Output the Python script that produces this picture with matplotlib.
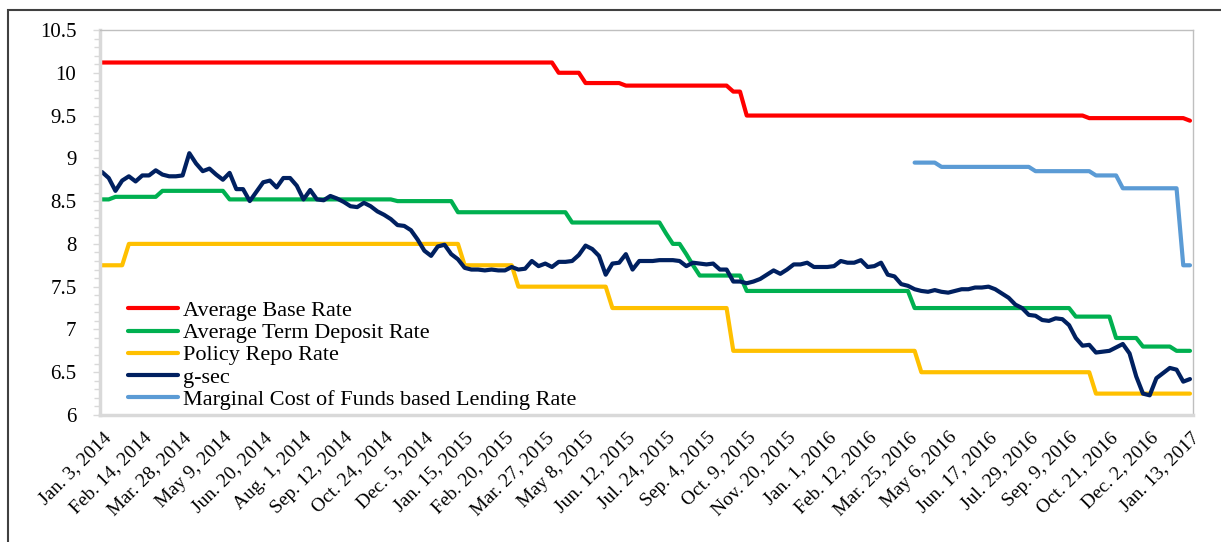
import matplotlib.pyplot as plt
import matplotlib.patches as patches
import numpy as np

plt.rcParams['font.family'] = ['Liberation Serif', 'DejaVu Serif']

# weekly observations, Jan 2014 - Jan 2017
tick_labels = [
    "Jan. 3, 2014", "Feb. 14, 2014", "Mar. 28, 2014", "May 9, 2014", "Jun. 20, 2014",
    "Aug. 1, 2014", "Sep. 12, 2014", "Oct. 24, 2014", "Dec. 5, 2014", "Jan. 15, 2015",
    "Feb. 20, 2015", "Mar. 27, 2015", "May 8, 2015", "Jun. 12, 2015", "Jul. 24, 2015",
    "Sep. 4, 2015", "Oct. 9, 2015", "Nov. 20, 2015", "Jan. 1, 2016", "Feb. 12, 2016",
    "Mar. 25, 2016", "May 6, 2016", "Jun. 17, 2016", "Jul. 29, 2016", "Sep. 9, 2016",
    "Oct. 21, 2016", "Dec. 2, 2016", "Jan. 13, 2017",
]

base_rate = ([10.12] * 68 + [10.0] * 4 + [9.88] * 6 + [9.85] * 16 + [9.78] * 2
             + [9.50] * 51 + [9.47] * 15 + [9.44])

term_deposit = ([8.52] * 2 + [8.55] * 7 + [8.62] * 10 + [8.52] * 25 + [8.50] * 9
                + [8.37] * 17 + [8.25] * 14 + [8.12] + [8.00] * 2 + [7.88, 7.75]
                + [7.63] * 7 + [7.45] * 25 + [7.25] * 24 + [7.15] * 6 + [6.90] * 4
                + [6.80] * 5 + [6.75] * 3)

repo_rate = ([7.75] * 4 + [8.0] * 50 + [7.75] * 8 + [7.5] * 14 + [7.25] * 18
             + [6.75] * 28 + [6.5] * 26 + [6.25] * 15)

gsec = [
    8.84, 8.77, 8.62, 8.74, 8.79, 8.73, 8.80, 8.80, 8.86, 8.81,
    8.79, 8.79, 8.80, 9.06, 8.94, 8.85, 8.88, 8.81, 8.75, 8.83,
    8.64, 8.64, 8.50, 8.61, 8.72, 8.74, 8.66, 8.77, 8.77, 8.68,
    8.52, 8.63, 8.52, 8.51, 8.56, 8.53, 8.49, 8.44, 8.43, 8.48,
    8.44, 8.38, 8.34, 8.29, 8.22, 8.21, 8.16, 8.05, 7.92, 7.86,
    7.97, 7.99, 7.88, 7.82, 7.72, 7.70, 7.70, 7.69, 7.70, 7.69,
    7.69, 7.73, 7.70, 7.71, 7.80, 7.74, 7.77, 7.73, 7.79, 7.79,
    7.80, 7.87, 7.98, 7.94, 7.86, 7.64, 7.77, 7.78, 7.88, 7.70,
    7.80, 7.80, 7.80, 7.81, 7.81, 7.81, 7.80, 7.74, 7.78, 7.77,
    7.76, 7.77, 7.70, 7.70, 7.56, 7.56, 7.54, 7.56, 7.59, 7.64,
    7.69, 7.65, 7.70, 7.76, 7.76, 7.78, 7.73, 7.73, 7.73, 7.74,
    7.80, 7.78, 7.78, 7.81, 7.73, 7.74, 7.78, 7.64, 7.62, 7.53,
    7.51, 7.47, 7.45, 7.44, 7.46, 7.44, 7.43, 7.45, 7.47, 7.47,
    7.49, 7.49, 7.50, 7.47, 7.42, 7.37, 7.29, 7.25, 7.17, 7.16,
    7.11, 7.10, 7.13, 7.12, 7.05, 6.90, 6.81, 6.82, 6.73, 6.74,
    6.75, 6.79, 6.83, 6.72, 6.45, 6.25, 6.23, 6.43, 6.49, 6.55,
    6.53, 6.39, 6.42,
]

# MCLR introduced April 2016
mclr = ([np.nan] * 121 + [8.95] * 4 + [8.90] * 14 + [8.85] * 9 + [8.80] * 4
        + [8.65] * 9 + [7.75] * 2)

series = [
    ("Average Base Rate", base_rate, "#FF0000"),
    ("Average Term Deposit Rate", term_deposit, "#00B050"),
    ("Policy Repo Rate", repo_rate, "#FFC000"),
    ("g-sec", gsec, "#002060"),
    ("Marginal Cost of Funds based Lending Rate", mclr, "#5B9BD5"),
]

fig = plt.figure(figsize=(12.21, 5.42), dpi=100)
ax = fig.add_axes([100 / 1221, 1 - 415 / 542, 1093 / 1221, 385 / 542])

x = np.arange(len(gsec))
for name, vals, col in series:
    ax.plot(x, vals, color=col, lw=3, label=name,
            solid_joinstyle='round', solid_capstyle='round')

ax.set_xlim(-0.3, 162.45)
ax.set_ylim(6, 10.5)

yt = np.arange(6, 10.51, 0.5)
ax.set_yticks(yt)
ax.set_yticklabels([f"{v:g}" for v in yt], fontsize=15)
ax.set_yticks(np.arange(6, 10.51, 0.1), minor=True)
ax.tick_params(axis='y', which='both', direction='out', color='#D9D9D9',
               width=1, length=5, pad=12)
ax.tick_params(axis='y', which='minor', length=4)

ax.set_xticks(x[::6])
ax.set_xticklabels(tick_labels, fontsize=14, rotation=45, ha='right',
                   rotation_mode='anchor')
ax.tick_params(axis='x', length=0, pad=10)

for side in ['top', 'right']:
    ax.spines[side].set_color('#BFBFBF')
    ax.spines[side].set_linewidth(1)
for side in ['left', 'bottom']:
    ax.spines[side].set_color('#D9D9D9')
    ax.spines[side].set_linewidth(2.5)

ax.legend(loc='upper left', bbox_to_anchor=(0.0256, 0.297), frameon=False,
          fontsize=16, handlelength=2.25, handletextpad=0.22,
          labelspacing=0.07, borderaxespad=0, borderpad=0)

# outer chart frame (cropped on right and bottom)
fig.patches.append(patches.Rectangle((8 / 1221, -0.1), 1.2, 1.1 - 10 / 542,
                                     transform=fig.transFigure, fill=False,
                                     edgecolor='#404040', lw=1.5))

plt.savefig("out.png", dpi=100)
